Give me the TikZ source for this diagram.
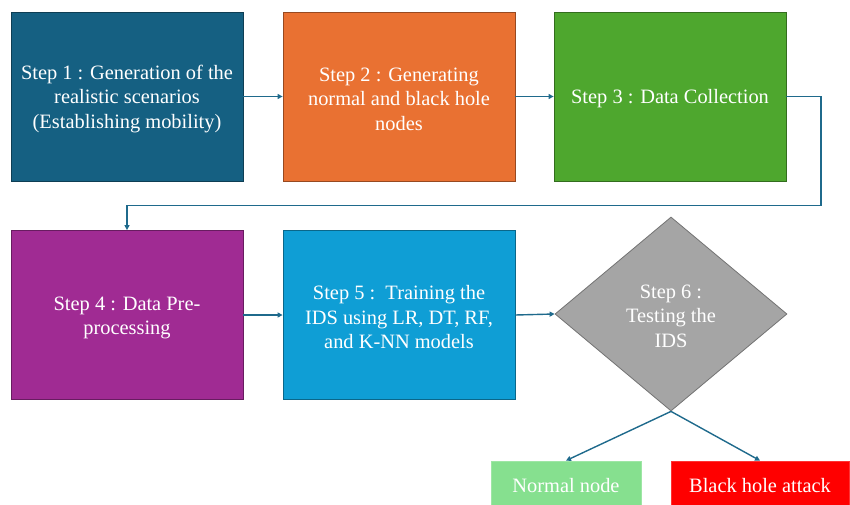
\documentclass[tikz,border=0pt]{standalone}
\usepackage{fontspec}
\setmainfont{Liberation Serif}
\usetikzlibrary{arrows.meta,shapes.geometric}

\definecolor{stepA}{HTML}{156082}
\definecolor{stepB}{HTML}{E97132}
\definecolor{stepC}{HTML}{4EA72E}
\definecolor{stepD}{HTML}{A02B93}
\definecolor{stepE}{HTML}{0F9ED5}
\definecolor{stepF}{HTML}{A5A5A5}
\definecolor{okgreen}{HTML}{86E08F}
\definecolor{alarmred}{HTML}{FF0000}
\definecolor{linkcol}{HTML}{1F6A8C}

% tall strut on a first line: lowers a centred text block a little
\newcommand\topstrut[1][19pt]{\rule{0pt}{#1}}

\tikzset{
  labelfont/.style={text=white, align=center,
    font=\fontsize{20.4}{24.5}\selectfont},
  stepbox/.style={draw=#1!65!black, fill=#1, line width=0.8pt,
    minimum width=232pt, minimum height=169pt, inner sep=4pt,
    labelfont},
  outbox/.style 2 args={draw=#1!80!white, fill=#1, line width=0.8pt,
    minimum width=#2, minimum height=48pt, inner sep=2pt,
    labelfont},
  decision/.style={diamond, draw=stepF!70!black, fill=stepF, line width=0.8pt,
    minimum width=232pt, minimum height=194pt, inner sep=0pt,
    labelfont},
  link/.style={draw=linkcol, line width=1.4pt,
    -{Triangle[length=5pt,width=5pt]}}
}

\begin{document}
\begin{tikzpicture}[x=1pt,y=-1pt]
  \useasboundingbox (0,0) rectangle (850,505);

  % first row
  \node[stepbox=stepA] (s1) at (127,96.5)
    {\topstrut Step 1 : Generation of the\\realistic scenarios\\(Establishing mobility)};
  \node[stepbox=stepB] (s2) at (399,96.5)
    {\topstrut Step 2 : Generating\\normal and black hole\\nodes};
  \node[stepbox=stepC] (s3) at (670,96.5) {\topstrut Step 3 : Data Collection};

  % second row
  \node[stepbox=stepD] (s4) at (127,315) {\topstrut Step 4 : Data Pre-\\processing};
  \node[stepbox=stepE] (s5) at (399,315)
    {\topstrut Step 5 :\ \ Training the\\IDS using LR, DT, RF,\\and K-NN models};
  \node[decision] (s6) at (671,314) {\topstrut[18pt]Step 6 :\\Testing the\\IDS};

  % outcomes
  \node[outbox={okgreen}{150pt}] (normal) at (566,485) {\topstrut[16pt]Normal node};
  \node[outbox={alarmred}{178pt}] (attack) at (760,485) {\topstrut[16pt]Black hole attack};

  % connectors
  \coordinate (bend) at (821,205.5);
  \draw[link] (s1.east) -- (s2.west);
  \draw[link] (s2.east) -- (s3.west);
  \draw[link] (s3.east) -| (bend) -| (s4.north);
  \draw[link] (s4.east) -- (s5.west);
  \draw[link] (s5.east) -- (s6.west);
  \draw[link] (s6.south) -- (normal.north);
  \draw[link] (s6.south) -- (attack.north);
\end{tikzpicture}
\end{document}
